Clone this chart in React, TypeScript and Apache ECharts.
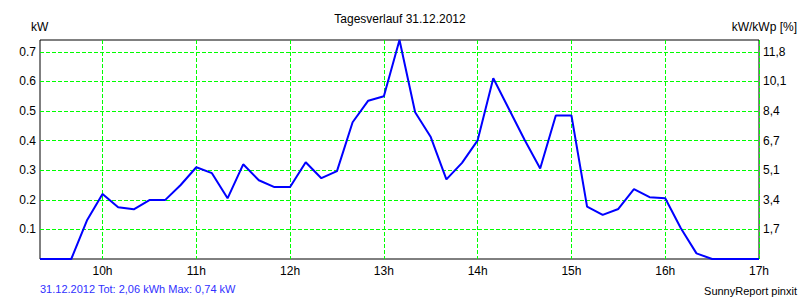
import React, { useEffect, useRef } from "react";
import * as echarts from "echarts";

const times = [
  "9:20", "9:30", "9:40", "9:50",
  "10:00", "10:10", "10:20", "10:30", "10:40", "10:50",
  "11:00", "11:10", "11:20", "11:30", "11:40", "11:50",
  "12:00", "12:10", "12:20", "12:30", "12:40", "12:50",
  "13:00", "13:10", "13:20", "13:30", "13:40", "13:50",
  "14:00", "14:10", "14:20", "14:30", "14:40", "14:50",
  "15:00", "15:10", "15:20", "15:30", "15:40", "15:50",
  "16:00", "16:10", "16:20", "16:30", "16:40", "16:50",
  "17:00",
];

const powerKW = [
  0, 0, 0, 0.13,
  0.22, 0.175, 0.168, 0.199, 0.199, 0.25,
  0.31, 0.29, 0.205, 0.32, 0.266, 0.243,
  0.243, 0.327, 0.273, 0.297, 0.462, 0.535,
  0.55, 0.74, 0.496, 0.412, 0.269, 0.325,
  0.401, 0.611, 0.507, 0.403, 0.306, 0.485,
  0.485, 0.177, 0.149, 0.169, 0.236, 0.209,
  0.205, 0.104, 0.019, 0, 0, 0,
  0,
];

const leftTickLabels = ["0.1", "0.2", "0.3", "0.4", "0.5", "0.6", "0.7"];
const rightTickLabels = ["1,7", "3,4", "5,1", "6,7", "8,4", "10,1", "11,8"];

const titleText = "Tagesverlauf 31.12.2012";
const leftUnit = "kW";
const rightUnit = "kW/kWp [%]";
const summaryText = "31.12.2012 Tot: 2,06 kWh Max: 0,74 kW";
const creditText = "SunnyReport pinxit";

const FONT = 'Arial, "Liberation Sans", sans-serif';

export default function App() {
  const ref = useRef<HTMLDivElement>(null);

  useEffect(() => {
    if (!ref.current) return;
    const chart = echarts.init(ref.current, null, { renderer: "svg" });
    const isHour = (v: string) => v.endsWith(":00");
    const tickIdx = (v: number) => Math.round(v * 10) - 1;

    chart.setOption({
      animation: false,
      backgroundColor: "#ffffff",
      grid: {
        left: 40,
        top: 40,
        width: 719,
        height: 219,
        show: true,
        borderColor: "#000000",
        borderWidth: 1,
        backgroundColor: "transparent",
      },
      xAxis: {
        type: "category",
        data: times,
        boundaryGap: false,
        axisLine: { show: false },
        axisTick: { show: false },
        axisLabel: {
          interval: (_i: number, v: string) => isHour(v),
          formatter: (v: string) => parseInt(v, 10) + "h",
          color: "#000000",
          fontFamily: FONT,
          fontSize: 12,
          margin: 6,
        },
        splitLine: {
          show: true,
          interval: (_i: number, v: string) => isHour(v),
          lineStyle: { color: "#00ff00", width: 1, type: [4, 2] },
        },
      },
      yAxis: [
        {
          type: "value",
          position: "left",
          min: 0,
          max: 0.74,
          interval: 0.1,
          axisLine: { show: false },
          axisTick: { show: false },
          axisLabel: {
            showMinLabel: false,
            showMaxLabel: false,
            formatter: (v: number) => leftTickLabels[tickIdx(v)] ?? "",
            color: "#000000",
            fontFamily: FONT,
            fontSize: 12,
            margin: 4,
          },
          splitLine: {
            show: true,
            showMinLine: false,
            showMaxLine: false,
            lineStyle: { color: "#00ff00", width: 1, type: [4, 2] },
          },
        },
        {
          type: "value",
          position: "right",
          min: 0,
          max: 0.74,
          interval: 0.1,
          axisLine: { show: false },
          axisTick: { show: false },
          axisLabel: {
            showMinLabel: false,
            showMaxLabel: false,
            formatter: (v: number) => rightTickLabels[tickIdx(v)] ?? "",
            color: "#000000",
            fontFamily: FONT,
            fontSize: 12,
            margin: 4,
          },
          splitLine: { show: false },
        },
      ],
      series: [
        {
          type: "line",
          data: powerKW,
          showSymbol: false,
          symbol: "none",
          lineStyle: { color: "#0000ff", width: 2 },
          clip: false,
          z: 5,
        },
      ],
      graphic: [
        {
          type: "text",
          x: 400,
          y: 19,
          style: {
            text: titleText,
            font: `12px ${FONT}`,
            fill: "#000000",
            textAlign: "center",
            textVerticalAlign: "middle",
          },
        },
        {
          type: "text",
          x: 31,
          y: 27,
          style: {
            text: leftUnit,
            font: `12px ${FONT}`,
            fill: "#000000",
            textAlign: "left",
            textVerticalAlign: "middle",
          },
        },
        {
          type: "text",
          x: 797,
          y: 27,
          style: {
            text: rightUnit,
            font: `12px ${FONT}`,
            fill: "#000000",
            textAlign: "right",
            textVerticalAlign: "middle",
          },
        },
        {
          type: "text",
          x: 40,
          y: 289,
          style: {
            text: summaryText,
            font: `11px ${FONT}`,
            fill: "#3030ff",
            textAlign: "left",
            textVerticalAlign: "middle",
          },
        },
        {
          type: "text",
          x: 797,
          y: 290.5,
          style: {
            text: creditText,
            font: `11px ${FONT}`,
            fill: "#000000",
            textAlign: "right",
            textVerticalAlign: "middle",
          },
        },
      ],
    });

    return () => chart.dispose();
  }, []);

  return (
    <div
      ref={ref}
      style={{ position: "fixed", left: 0, top: 0, width: 800, height: 300, background: "#ffffff" }}
    />
  );
}
